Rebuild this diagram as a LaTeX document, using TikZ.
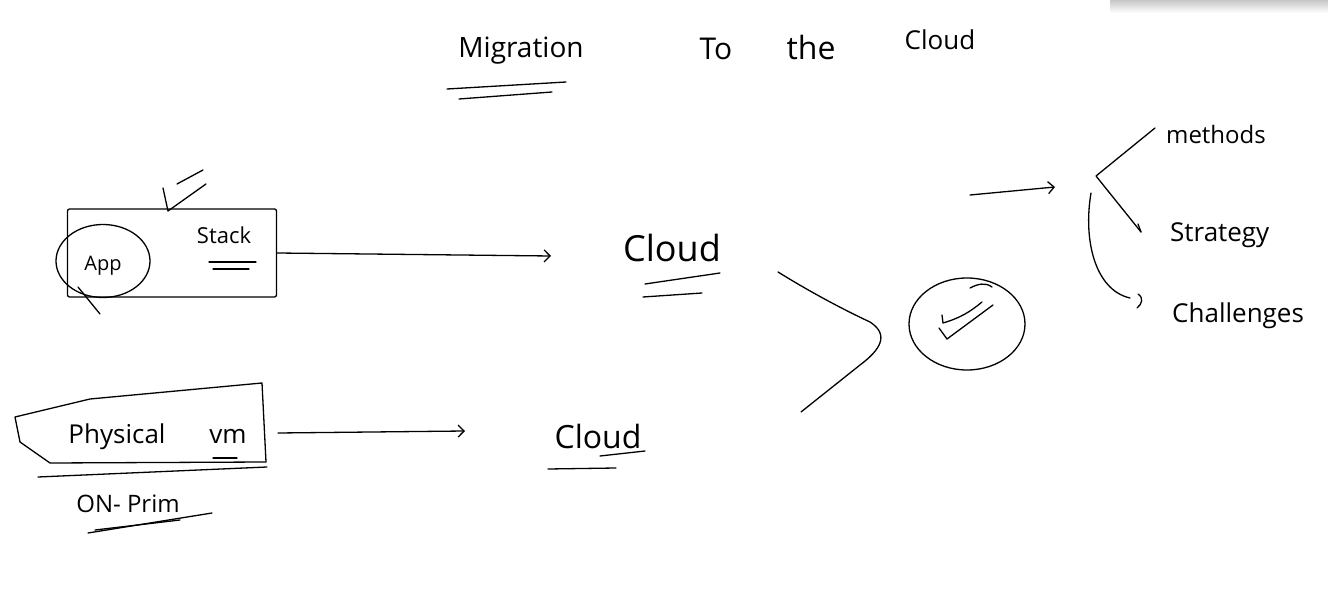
\documentclass[tikz,border=0pt]{standalone}
\usepackage{fontspec}
\setmainfont{Open Sans}
\usetikzlibrary{arrows.meta,shapes.geometric}
\tikzset{
  ink/.style={line width=1.3pt, line cap=round, line join=round, black},
  hand/.style={font=\fontsize{#1}{#1}\selectfont, inner sep=0pt, anchor=base},
  hand/.default=26,
  sketchbox/.style={draw, ink, rounded corners=2pt, inner sep=0pt},
  barb/.style={ink, -{Straight Barb[length=6pt,width=12pt]}},
}
\begin{document}
\begin{tikzpicture}[x=1pt,y=-1pt]
\useasboundingbox (0,0) rectangle (1328,609);
\shade[top color=black!22, bottom color=white, draw=none] (1110,0) rectangle (1328,13);

% title
\node[hand=28] (t1) at (521,58) {Migration};
\node[hand=30] (t2) at (716,60) {To};
\node[hand=32] (t3) at (811,60) {the};
\node[hand=26] (t4) at (940,50) {Cloud};
\draw[ink] (447,89) -- (566,82);
\draw[ink] (459,99) -- (552,92);

% App stack box
\node[sketchbox, minimum width=209pt, minimum height=88pt] (box1) at (172,253) {};
\node[draw, ink, ellipse, minimum width=94pt, minimum height=73pt] (app) at (103,261) {};
\node[hand=20] (applbl) at (103,271) {App};
\node[hand=22] (stack) at (224,244) {Stack};
\draw[ink] (209,262) -- (256,262);
\draw[ink] (213,269) -- (249,269);
\draw[ink] (78,287) -- (100,314);
\draw[ink] (163,188) -- (168,211) -- (206,184);
\draw[ink] (177,184) -- (203,170);

% cloud 1
\node[hand=36] (cloud1) at (672,262) {Cloud};
\coordinate (a1) at (551,256);
\draw[barb] (box1.east) -- (a1);
\draw[ink] (645,284) -- (720,273);
\draw[ink] (643,297) -- (702,293);

% physical box
\node[hand=26] (phys) at (117,443) {Physical};
\node[hand=26] (vm) at (228,443) {vm};
\draw[ink] (15,417) -- (90,399) -- (262,383) -- (266,462) -- (50,463) -- (20,442) -- cycle;
\coordinate (box2) at (266,432);
\draw[ink] (213,458) -- (237,458);
\draw[ink] (38,477) -- (267,467);
\node[hand=24] (onprim) at (128,512) {ON- Prim};
\draw[ink] (88,533) -- (212,513);
\draw[ink] (95,530) -- (180,520);

% cloud 2
\node[hand=32] (cloud2) at (598,449) {Cloud};
\coordinate (a2) at (465,431);
\draw[barb] (278,433) -- (a2);
\draw[ink] (600,456) -- (645,451);
\draw[ink] (548,469) -- (616,468);

% big angle
\draw[ink] (778,272) .. controls (820,298) and (855,315) .. (870,322)
  .. controls (890,335) and (880,350) .. (860,365) -- (801,412);

% check circle
\node[draw, ink, ellipse, minimum width=116pt, minimum height=92pt, inner sep=0pt] (ok) at (967,324) {};
\draw[ink] (942,315) -- (943,323) .. controls (960,318) and (970,312) .. (982,302);
\draw[ink] (939,328) -- (947,339) -- (993,305);
\draw[ink] (970,288) .. controls (978,284) and (985,282) .. (992,287);

% branch
\coordinate (hub) at (1096,176);
\coordinate (arrowend) at (1055,187);
\draw[barb] (970,195) -- (arrowend);
\node[hand=24, anchor=base west] (methods) at (1166,144) {methods};
\node[hand=26, anchor=base west] (strategy) at (1170,242) {Strategy};
\node[hand=26, anchor=base west] (challenges) at (1172,323) {Challenges};
\draw[ink] (1155,128) -- (hub) -- (1141,232);
\draw[ink] (1141,232) -- (1138,224);
\draw[ink] (1091,193) .. controls (1083,240) and (1095,290) .. (1130,298);
\draw[ink] (1138,294) .. controls (1144,298) and (1142,304) .. (1137,308);
\end{tikzpicture}
\end{document}
